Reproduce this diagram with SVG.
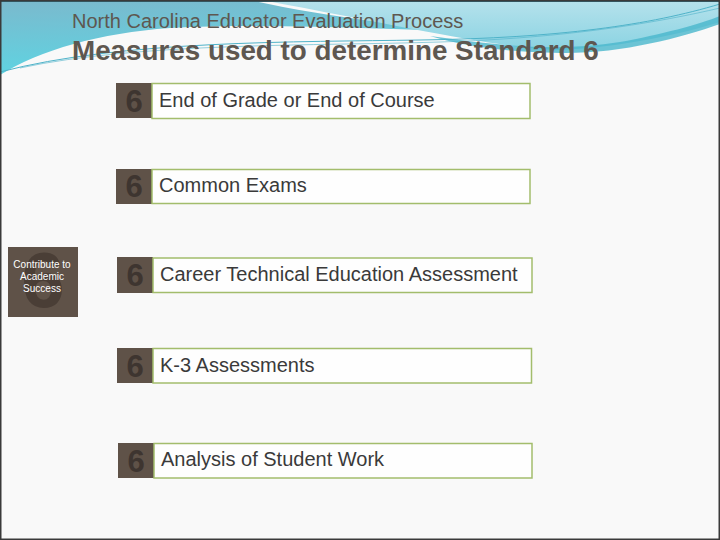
<svg xmlns="http://www.w3.org/2000/svg" width="720" height="540" viewBox="0 0 720 540">
<defs>
<linearGradient id="gA" x1="0" y1="0" x2="0.2" y2="1">
<stop offset="0" stop-color="#7bb9cd"/>
<stop offset="1" stop-color="#5ed4e2"/>
</linearGradient>
<linearGradient id="gB" x1="0" y1="0" x2="0" y2="1">
<stop offset="0" stop-color="#b6e2ec"/>
<stop offset="1" stop-color="#8ad3e2"/>
</linearGradient>
<style>
.t{font-family:"Liberation Sans",Arial,sans-serif;fill:#5e5750}
.sq{fill:#5f5248}
.num{font-family:"Liberation Sans",Arial,sans-serif;font-weight:bold;font-size:31px;fill:#3e3530;text-anchor:middle}
.box{fill:#fefefe;stroke:#a3bd6c;stroke-width:1.5}
.lbl{font-family:"Liberation Sans",Arial,sans-serif;font-size:20px;fill:#3a3a3a}
.sw{fill:none;stroke:#4fb3c9;stroke-width:1}
</style>
</defs>
<rect x="0" y="0" width="720" height="540" fill="#f9f9f9"/>
<g id="header">
<path d="M0,0 L250,0 C330,18 420,28 520,34 C390,29 270,23 170,28 C100,33 40,50 0,75 Z" fill="url(#gA)"/>
<path d="M262,0 L720,0 L720,22 C680,34 630,46 560,50 C500,48 420,30 262,0 Z" fill="url(#gB)"/>
<path d="M430,36 C500,46 560,52 620,42 C660,35 700,24 720,16 L720,24 C680,38 620,54 560,53 C500,52 460,45 430,36 Z" fill="#48b6cc" opacity="0.8"/>
<path class="sw" d="M0,72 C120,40 300,42 420,40 C560,38 650,25 720,4"/>
<path class="sw" d="M20,68 C140,42 320,46 440,42 C570,38 660,22 720,8" opacity="0.6"/>
<rect x="0" y="0" width="720" height="2" fill="#2e6f80"/>
</g>
<text class="t" x="72" y="28" font-size="20">North Carolina Educator Evaluation Process</text>
<text class="t" x="72" y="60" font-size="27.8" font-weight="bold">Measures used to determine Standard 6</text>
<g id="core">
<rect class="sq" x="8" y="247" width="70" height="70"/>
<text x="43" y="307" font-family="Liberation Sans,Arial,sans-serif" font-weight="bold" font-size="78" fill="#4a3e36" text-anchor="middle">6</text>
<g font-family="Liberation Sans,Arial,sans-serif" font-size="10" fill="#ffffff" text-anchor="middle">
<text x="42" y="268">Contribute to</text>
<text x="42" y="280">Academic</text>
<text x="42" y="292">Success</text>
</g>
</g>
<g id="m1">
<rect class="sq" x="116" y="83" width="36" height="35"/>
<rect class="box" x="152" y="83.5" width="378" height="35"/>
<text class="num" x="134" y="112">6</text>
<text class="lbl" x="159" y="107">End of Grade or End of Course</text>
</g>
<g id="m2">
<rect class="sq" x="116" y="169" width="36" height="35"/>
<rect class="box" x="152" y="169.5" width="378" height="34"/>
<text class="num" x="134" y="197">6</text>
<text class="lbl" x="159" y="192">Common Exams</text>
</g>
<g id="m3">
<rect class="sq" x="117" y="257" width="36" height="36"/>
<rect class="box" x="153" y="258" width="379" height="34.5"/>
<text class="num" x="135" y="286">6</text>
<text class="lbl" x="160" y="281">Career Technical Education Assessment</text>
</g>
<g id="m4">
<rect class="sq" x="117" y="348" width="36" height="35"/>
<rect class="box" x="153" y="348.5" width="378.5" height="34.5"/>
<text class="num" x="135" y="377">6</text>
<text class="lbl" x="160" y="372">K-3 Assessments</text>
</g>
<g id="m5">
<rect class="sq" x="118" y="443" width="36" height="35"/>
<rect class="box" x="154" y="443.5" width="378" height="34.5"/>
<text class="num" x="136" y="472">6</text>
<text class="lbl" x="161" y="466">Analysis of Student Work</text>
</g>
<rect x="0.75" y="0.75" width="718.5" height="538.5" fill="none" stroke="#3a3a3a" stroke-width="1.5"/>
</svg>
